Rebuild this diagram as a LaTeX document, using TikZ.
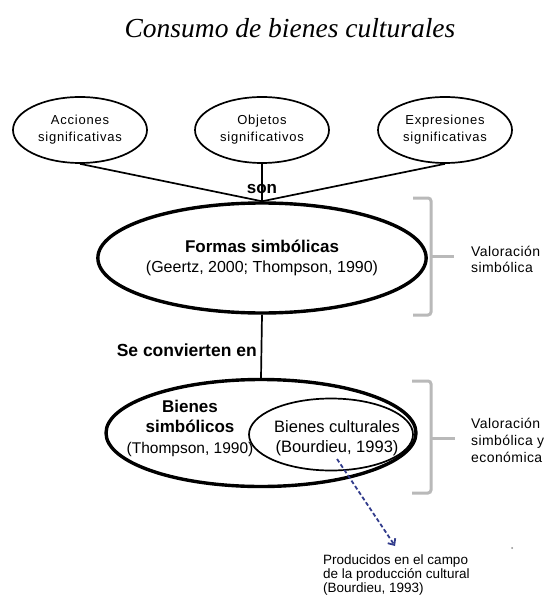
\documentclass[tikz,border=0pt]{standalone}
\usepackage{fontspec}
\setmainfont{Liberation Sans}
\newfontfamily\titlefont{Liberation Serif}
\newfontfamily\spacedfont{Liberation Sans}[LetterSpace=6]
\newfontfamily\sidefont{Liberation Sans}[LetterSpace=3]
\usetikzlibrary{shapes.geometric,arrows.meta}
\definecolor{arrowblue}{RGB}{50,60,140}
\definecolor{bracegray}{RGB}{185,185,185}
\begin{document}
\begin{tikzpicture}[x=1pt,y=-1pt,
  smallell/.style={ellipse,draw,line width=1.7pt,minimum width=134pt,minimum height=66pt,inner sep=0pt,align=center,font=\spacedfont\fontsize{13}{17}\selectfont},
  bigell/.style={ellipse,draw,line width=3.4pt,inner sep=0pt},
  innerell/.style={ellipse,draw,line width=1.7pt,inner sep=0pt},
  conn/.style={line width=1.7pt},
  bracestyle/.style={draw=bracegray,line width=3pt,rounded corners=3pt},
  sidetext/.style={inner sep=0pt,align=left,anchor=west,font=\sidefont\fontsize{14}{16}\selectfont},
  dasharrow/.style={draw=arrowblue,line width=1.8pt,dash pattern=on 4pt off 2.5pt,-{Straight Barb[length=5pt,width=9pt]}},
  lbl/.style={inner sep=0pt}
]
\useasboundingbox (0,0) rectangle (545,596);

\node[lbl,anchor=base] (title) at (290,38) {\titlefont\itshape\fontsize{27.5}{30}\selectfont Consumo de bienes culturales};

\node[smallell] (acc) at (80,130) {Acciones\\significativas};
\node[smallell] (obj) at (262,130) {Objetos\\significativos};
\node[smallell] (exp) at (445,130) {Expresiones\\significativas};

\node[bigell,minimum width=302pt,minimum height=110pt,align=center,font=\fontsize{16}{20}\selectfont] (formas) at (262,258)
  {{\fontsize{17}{20}\selectfont\bfseries Formas simbólicas}\\(Geertz, 2000; Thompson, 1990)};

\node[bigell,minimum width=310pt,minimum height=107pt] (bienes) at (261,433) {};
\node[innerell,minimum width=164pt,minimum height=72pt] (cult) at (331,434.5) {};

\node[lbl,align=center,font=\fontsize{17}{20.5}\selectfont] (simb) at (190,428)
  {\textbf{Bienes}\\\textbf{simbólicos}\\{\fontsize{15.5}{20}\selectfont(Thompson, 1990)}};
\node[lbl,align=center,font=\fontsize{16.5}{20}\selectfont] (culttext) at (337,438)
  {Bienes culturales\\(Bourdieu, 1993)};

\draw[conn] (acc.south) -- (formas.north);
\draw[conn] (obj.south) -- (formas.north);
\draw[conn] (exp.south) -- (formas.north);
\draw[conn] (formas.south) -- (bienes.north);

\node[lbl,font=\fontsize{17}{20}\selectfont\bfseries] (son) at (262,189) {son};
\node[lbl,anchor=east,font=\fontsize{17.5}{20}\selectfont\bfseries] (conv) at (257,350) {Se convierten en};

\draw[bracestyle] (413,198) -- (431,198) -- (431,315) -- (413,315);
\draw[bracestyle] (431,256) -- (454,256);
\draw[bracestyle] (412,381) -- (431,381) -- (431,493) -- (412,493);
\draw[bracestyle] (431,438) -- (455,438);

\node[sidetext] (val1) at (471,259) {Valoración\\simbólica};
\node[sidetext,font=\sidefont\fontsize{14}{17}\selectfont] (val2) at (471,440) {Valoración\\simbólica y\\económica};

\coordinate (arrS) at (337,459);
\coordinate (arrE) at (395,546);
\draw[dasharrow] (arrS) -- (arrE);

\node[lbl,align=left,anchor=west,font=\fontsize{13.5}{14}\selectfont] (prod) at (323,575)
  {Producidos en el campo\\de la producción cultural\\(Bourdieu, 1993)};

\fill[black!45] (512,548) circle (1pt);
\end{tikzpicture}
\end{document}
